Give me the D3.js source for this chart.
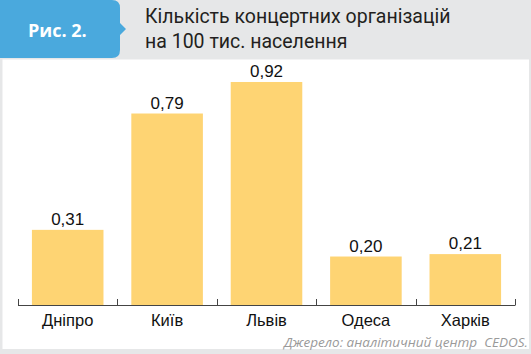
<!DOCTYPE html>
<html>
<head>
<meta charset="utf-8">
<script src="https://cdn.jsdelivr.net/npm/d3@7"></script>
<style>
  body { margin: 0; background: #e6e7e8; }
  svg { display: block; }
</style>
</head>
<body>
<div id="chart"></div>
<script>
var svgWidth = 531;
var svgHeight = 354;

// chart data
var cities = ["Дніпро", "Київ", "Львів", "Одеса", "Харків"];
var values = [0.31, 0.79, 0.92, 0.20, 0.21];
var valueLabels = ["0,31", "0,79", "0,92", "0,20", "0,21"];

var titleLines = ["Кількість концертних організацій", "на 100 тис. населення"];

var svg = d3.select("#chart")
  .append("svg")
  .attr("width", svgWidth)
  .attr("height", svgHeight);

// background + white panel
svg.append("rect")
  .attr("width", svgWidth)
  .attr("height", svgHeight)
  .attr("fill", "#e6e7e8");

svg.append("rect")
  .attr("x", 2.5)
  .attr("y", 59.5)
  .attr("width", 526.5)
  .attr("height", 289.5)
  .attr("fill", "#ffffff");

// blue tab with arrow
svg.append("path")
  .attr("d", "M0,0 H112 Q120,0 120,8 V23 L126,29 L120,35 V50 Q120,58 112,58 H0 Z")
  .attr("fill", "#4aa9dd");

svg.append("text")
  .attr("x", 28)
  .attr("y", 37)
  .attr("fill", "#ffffff")
  .style("font-family", "'Open Sans', sans-serif")
  .style("font-weight", "bold")
  .style("font-size", "18px")
  .text("Рис. 2.");

svg.selectAll(".title")
  .data(titleLines)
  .enter()
  .append("text")
  .attr("class", "title")
  .attr("x", 145)
  .attr("y", (d, i) => 23 + i * 25)
  .attr("fill", "#231f20")
  .style("font-family", "Roboto, sans-serif")
  .style("font-size", "19.5px")
  .text(d => d);

// scales
var xScale = d3.scaleBand()
  .domain(cities)
  .range([18, 515])
  .paddingInner(0.28)
  .paddingOuter(0.14);

var yScale = d3.scaleLinear()
  .domain([0, 1])
  .range([305, 62.6]);

// bars
svg.selectAll(".bar")
  .data(values)
  .enter()
  .append("rect")
  .attr("class", "bar")
  .attr("x", (d, i) => xScale(cities[i]))
  .attr("y", d => yScale(d))
  .attr("width", xScale.bandwidth())
  .attr("height", d => yScale(0) - yScale(d))
  .attr("fill", "#fed473");

// value labels
svg.selectAll(".vlabel")
  .data(values)
  .enter()
  .append("text")
  .attr("class", "vlabel")
  .attr("x", (d, i) => xScale(cities[i]) + xScale.bandwidth() / 2)
  .attr("y", d => yScale(d) - 5)
  .attr("text-anchor", "middle")
  .attr("fill", "#111")
  .style("font-family", "'Liberation Sans', Arial, sans-serif")
  .style("font-size", "17px")
  .text((d, i) => valueLabels[i]);

// x axis: baseline with ticks pointing up at band boundaries
var boundaries = d3.range(cities.length + 1).map(i => 18 + i * (497 / cities.length));

svg.append("line")
  .attr("x1", 18)
  .attr("x2", 515)
  .attr("y1", 305.5)
  .attr("y2", 305.5)
  .attr("stroke", "#444")
  .attr("stroke-width", 1);

svg.selectAll(".tick")
  .data(boundaries)
  .enter()
  .append("line")
  .attr("class", "tick")
  .attr("x1", d => Math.round(d) + 0.5)
  .attr("x2", d => Math.round(d) + 0.5)
  .attr("y1", 299)
  .attr("y2", 305.5)
  .attr("stroke", "#444")
  .attr("stroke-width", 1);

svg.selectAll(".xlabel")
  .data(cities)
  .enter()
  .append("text")
  .attr("class", "xlabel")
  .attr("x", d => xScale(d) + xScale.bandwidth() / 2)
  .attr("y", 326)
  .attr("text-anchor", "middle")
  .attr("fill", "#111")
  .style("font-family", "'Liberation Sans', Arial, sans-serif")
  .style("font-size", "16.5px")
  .text(d => d);

// source
svg.append("text")
  .attr("x", 528)
  .attr("y", 347)
  .attr("text-anchor", "end")
  .attr("fill", "#9a9a9a")
  .style("font-family", "'Open Sans', sans-serif")
  .style("font-style", "italic")
  .style("font-size", "13.5px")
  .style("white-space", "pre")
  .text("Джерело: аналітичний центр  CEDOS.");
</script>
</body>
</html>
